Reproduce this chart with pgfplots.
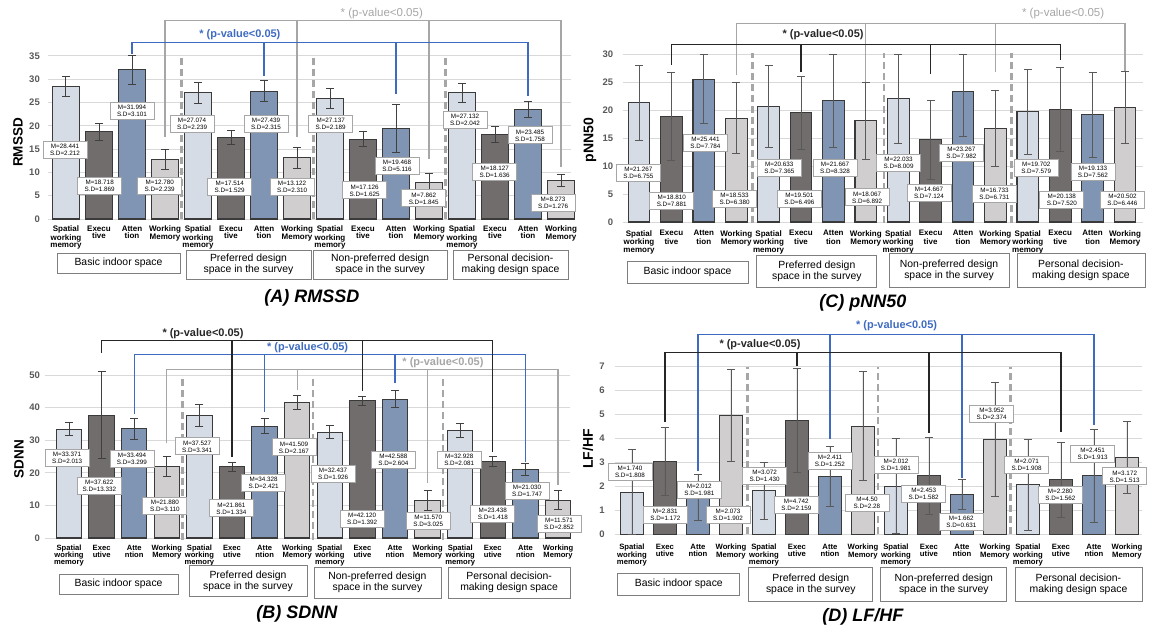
\documentclass[border=0pt]{standalone}
\usepackage{fontspec}
\setmainfont{Liberation Sans}
\usepackage{pgfplots}
\pgfplotsset{compat=1.18}
\definecolor{cswm}{HTML}{D6DCE5}
\definecolor{cexe}{HTML}{716D6C}
\definecolor{catt}{HTML}{7F95B3}
\definecolor{cwm}{HTML}{D0CECE}
\definecolor{edge}{HTML}{3A3A3A}
\definecolor{errc}{HTML}{404040}
\definecolor{gridc}{HTML}{D9D9D9}
\definecolor{tickc}{HTML}{595959}
\definecolor{sepc}{HTML}{A6A6A6}
\definecolor{pblue}{HTML}{3E6BC1}
\definecolor{pgray}{HTML}{A6A6A6}
\definecolor{pblack}{HTML}{262626}
\definecolor{boxc}{HTML}{7F7F7F}
\tikzset{
  mlab/.style={draw=sepc, line width=0.8pt, fill=white, align=center, inner sep=0.5pt,
     font=\fontsize{6.3}{7}\selectfont, minimum width=44pt, minimum height=17pt},
  grp/.style={draw=boxc, line width=0.8pt, fill=white, align=center, inner sep=0pt,
     font=\fontsize{10.4}{11.2}\selectfont},
  sep/.style={sepc, line width=2.6pt, dash pattern=on 7pt off 4pt},
  brk/.style={line width=1.1pt},
  ptxt/.style={font=\bfseries\fontsize{11}{12}\selectfont},
  ttl/.style={font=\bfseries\itshape\fontsize{18}{20}\selectfont},
}
\newcommand{\ml}[4]{\node[mlab] at (axis cs:#1,#2) {M=#3\\S.D=#4};}
\newcommand{\gb}[5]{\node[grp, minimum width=#3pt, minimum height=#4pt] at (axis cs:#1,#2) {#5};}
\pgfplotsset{
 panel/.style={
   clip=false, axis line style={draw=none}, major tick style={draw=none},
   enlargelimits=false, anchor=south west,
   ymajorgrids, grid style={gridc, line width=0.8pt},
   xtick={0,...,15},
   /pgf/number format/assume math mode=true,
   yticklabel style={font=\bfseries\fontsize{9.5}{10}\selectfont, text=tickc},
   xticklabel style={font=\bfseries\fontsize{8}{7.4}\selectfont, align=center, inner sep=1pt, yshift=-1.5pt},
   ylabel style={font=\bfseries\fontsize{13.5}{14}\selectfont, anchor=center},
   ybar, bar shift=0pt,
 },
 swm/.style={fill=cswm, draw=edge, line width=1.1pt},
 exe/.style={fill=cexe, draw=edge, line width=1.1pt},
 att/.style={fill=catt, draw=edge, line width=1.1pt},
 wmm/.style={fill=cwm, draw=edge, line width=1.1pt},
}
\begin{document}
\begin{tikzpicture}
\useasboundingbox (0pt,-631pt) rectangle (1157pt,0pt);
%%%%%%%%%%%%%%%%%%%% (A) RMSSD
\begin{axis}[panel, at={(47.85pt,-219pt)}, x=33pt, y=4.66pt,
  xmin=-0.55, xmax=15.3, ymin=0, ymax=35, ytick={0,5,...,35}, bar width=0.82,
  yticklabel style={xshift=-4.5pt},
  xticklabels={{Spatial\\working\\memory},{Execu\\tive},{Atten\\tion},{Working\\Memory},
               {Spatial\\working\\memory},{Execu\\tive},{Atten\\tion},{Working\\Memory},
               {Spatial\\working\\memory},{Execu\\tive},{Atten\\tion},{Working\\Memory},
               {Spatial\\working\\memory},{Execu\\tive},{Atten\\tion},{Working\\Memory}},
  ylabel={RMSSD}, ylabel style={at={(rel axis cs:-0.0571,0.469)}},
  error bars/y dir=both, error bars/y explicit,
  error bars/error bar style={errc, line width=1pt},
  error bars/error mark options={rotate=90, errc, line width=1pt, mark size=4pt}]
\addplot[swm] coordinates {(0,28.441) +- (0,2.212) (4,27.074) +- (0,2.239) (8,25.9) +- (0,2.189) (12,27.132) +- (0,2.042)};
\addplot[exe] coordinates {(1,18.718) +- (0,1.869) (5,17.514) +- (0,1.529) (9,17.126) +- (0,1.625) (13,18.127) +- (0,1.636)};
\addplot[att] coordinates {(2,31.994) +- (0,3.101) (6,27.439) +- (0,2.315) (10,19.468) +- (0,5.116) (14,23.485) +- (0,1.758)};
\addplot[wmm] coordinates {(3,12.780) +- (0,2.239) (7,13.122) +- (0,2.310) (11,7.862) +- (0,1.845) (15,8.273) +- (0,1.276)};
\draw[sep] (3.5,0) -- (3.5,34.5); \draw[sep] (7.5,0) -- (7.5,34.5); \draw[sep] (11.5,0) -- (11.5,34.5);
\draw[brk, pgray] (3,17.7) -- (3,42.6) -- (15,42.6) -- (15,11.1);
\draw[brk, pgray] (7,42.6) -- (7,17.5); \draw[brk, pgray] (11,42.6) -- (11,12.9);
\draw[brk, pblue] (2,35.4) -- (2,37.8) -- (14,37.8) -- (14,26.5);
\draw[brk, pblue] (6,37.8) -- (6,30.7); \draw[brk, pblue] (10,37.8) -- (10,26.8);
\node[ptxt, text=pblue] at (5.27,39.5) {* (p-value<0.05)};
\node[font=\fontsize{11.5}{12}\selectfont, text=pgray] at (9.57,44.1) {* (p-value<0.05)};
\ml{-0.03}{14.8}{28.441}{2.212}
\ml{1.02}{7.15}{18.718}{1.869}
\ml{2.0}{23.2}{31.994}{3.101}
\ml{2.84}{7.15}{12.780}{2.239}
\ml{3.82}{20.4}{27.074}{2.239}
\ml{4.96}{6.9}{17.514}{1.529}
\ml{6.06}{20.4}{27.439}{2.315}
\ml{6.85}{6.9}{13.122}{2.310}
\ml{8.02}{20.45}{27.137}{2.189}
\ml{9.05}{6.15}{17.126}{1.625}
\ml{10.03}{11.5}{19.468}{5.116}
\ml{10.84}{4.43}{7.862}{1.845}
\ml{12.09}{21.3}{27.132}{2.042}
\ml{12.99}{10.15}{18.127}{1.636}
\ml{14.06}{17.95}{23.485}{1.758}
\ml{14.76}{3.4}{8.273}{1.276}
\gb{1.59}{-9.44}{123}{20}{Basic indoor space}
\gb{5.53}{-9.76}{125}{29}{Preferred design\\space in the survey}
\gb{9.52}{-9.76}{134}{29}{Non-preferred design\\space in the survey}
\gb{13.47}{-9.76}{115}{29}{Personal decision-\\making design space}
\node[ttl] at (7.45,-16.95) {(A) RMSSD};
\end{axis}
%%%%%%%%%%%%%%%%%%%% (C) pNN50
\begin{axis}[panel, at={(622.8pt,-222pt)}, x=32.4pt, y=5.6pt,
  xmin=-0.5, xmax=15.55, ymin=0, ymax=30, ytick={0,5,...,30}, bar width=0.67,
  yticklabel style={xshift=-6pt},
  xticklabel style={font=\bfseries\fontsize{8}{8.2}\selectfont, yshift=-1.5pt},
  xticklabels={{Spatial\\working\\memory},{Execu\\tive},{Atten\\tion},{Working\\Memory},
               {Spatial\\working\\memory},{Execu\\tive},{Atten\\tion},{Working\\Memory},
               {Spatial\\working\\memory},{Execu\\tive},{Atten\\tion},{Working\\Memory},
               {Spatial\\working\\memory},{Execu\\tive},{Atten\\tion},{Working\\Memory}},
  ylabel={pNN50}, ylabel style={at={(rel axis cs:-0.063,0.488)}, font=\bfseries\fontsize{14}{14}\selectfont},
  error bars/y dir=both, error bars/y explicit,
  error bars/error bar style={tickc, line width=0.9pt},
  error bars/error mark options={rotate=90, tickc, line width=0.9pt, mark size=4pt}]
\addplot[swm] coordinates {(0,21.267) +- (0,6.755) (4,20.633) +- (0,7.365) (8,22.033) += (0,7.967) -= (0,8.009) (12,19.702) +- (0,7.579)};
\addplot[exe] coordinates {(1,18.810) +- (0,7.881) (5,19.501) +- (0,6.496) (9,14.667) +- (0,7.124) (13,20.138) +- (0,7.520)};
\addplot[att] coordinates {(2,25.441) += (0,4.559) -= (0,7.784) (6,21.667) += (0,8.333) -= (0,8.328) (10,23.267) += (0,6.733) -= (0,7.982) (14,19.133) +- (0,7.562)};
\addplot[wmm] coordinates {(3,18.533) +- (0,6.380) (7,18.067) +- (0,6.892) (11,16.733) +- (0,6.731) (15,20.502) +- (0,6.446)};
\draw[sep] (3.5,-0.2) -- (3.5,30.2); \draw[sep] (7.56,-0.2) -- (7.56,30.2); \draw[sep] (11.5,-0.2) -- (11.5,30.2);
\draw[brk, pgray] (3,26.25) -- (3,35.5) -- (15,35.5) -- (15,27.0);
\draw[brk, pgray] (7,35.5) -- (7,25.05); \draw[brk, pgray] (11,35.5) -- (11,26.7);
\draw[brk, pblack] (1,28.0) -- (1,31.7) -- (13,31.7) -- (13,28.9);
\draw[brk, pblack] (5,31.7) -- (5,26.8); \draw[brk, pblack] (9,31.7) -- (9,26.4);
\node[font=\fontsize{11.5}{12}\selectfont, text=pgray] at (13.09,37.3) {* (p-value<0.05)};
\node[ptxt, text=pblack] at (5.68,33.4) {* (p-value<0.05)};
\ml{-0.02}{8.8}{21.267}{6.755}
\ml{1.01}{3.8}{18.810}{7.881}
\ml{2.05}{14.05}{25.441}{7.784}
\ml{2.95}{4.2}{18.533}{6.380}
\ml{4.33}{9.6}{20.633}{7.365}
\ml{4.95}{4.2}{19.501}{6.496}
\ml{6.05}{9.6}{21.667}{8.328}
\ml{7.04}{4.4}{18.067}{6.892}
\ml{8.01}{10.6}{22.033}{8.009}
\ml{8.95}{5.2}{14.667}{7.124}
\ml{9.95}{12.4}{23.267}{7.982}
\ml{10.97}{5.1}{16.733}{6.731}
\ml{12.26}{9.6}{19.702}{7.579}
\ml{13.05}{3.9}{20.138}{7.520}
\ml{14.01}{9.0}{19.133}{7.562}
\ml{14.92}{3.9}{20.502}{6.446}
\gb{1.50}{-8.93}{121}{22}{Basic indoor space}
\gb{5.49}{-8.75}{120}{32}{Preferred design\\space in the survey}
\gb{9.57}{-8.57}{120}{34}{Non-preferred design\\space in the survey}
\gb{13.64}{-8.57}{128}{34}{Personal decision-\\making design space}
\node[ttl] at (6.91,-14.46) {(C) pNN50};
\end{axis}
%%%%%%%%%%%%%%%%%%%% (B) SDNN
\begin{axis}[panel, at={(44.9pt,-538pt)}, x=32.6pt, y=3.26pt,
  xmin=-0.74, xmax=15.37, ymin=0, ymax=50, ytick={0,10,...,50}, bar width=0.78,
  yticklabel style={xshift=-1.5pt},
  xticklabel style={font=\bfseries\fontsize{7.6}{7.2}\selectfont},
  xticklabels={{Spatial\\working\\memory},{Exec\\utive},{Atte\\ntion},{Working\\Memory},
               {Spatial\\working\\memory},{Exec\\utive},{Atte\\ntion},{Working\\Memory},
               {Spatial\\working\\memory},{Exec\\utive},{Atte\\ntion},{Working\\Memory},
               {Spatial\\working\\memory},{Exec\\utive},{Atte\\ntion},{Working\\Memory}},
  ylabel={SDNN}, ylabel style={at={(rel axis cs:-0.0493,0.485)}},
  error bars/y dir=both, error bars/y explicit,
  error bars/error bar style={errc, line width=1pt},
  error bars/error mark options={rotate=90, errc, line width=1pt, mark size=4pt}]
\addplot[swm] coordinates {(0,33.371) +- (0,2.013) (4,37.527) +- (0,3.341) (8,32.437) +- (0,1.926) (12,32.928) +- (0,2.081)};
\addplot[exe] coordinates {(1,37.622) +- (0,13.332) (5,21.861) +- (0,1.334) (9,42.120) +- (0,1.392) (13,23.438) +- (0,1.418)};
\addplot[att] coordinates {(2,33.494) +- (0,3.299) (6,34.328) +- (0,2.421) (10,42.588) +- (0,2.604) (14,21.030) +- (0,1.747)};
\addplot[wmm] coordinates {(3,21.880) +- (0,3.110) (7,41.509) +- (0,2.167) (11,11.570) +- (0,3.025) (15,11.571) +- (0,2.852)};
\draw[sep] (3.49,-0.6) -- (3.49,49.5); \draw[sep] (7.48,-0.6) -- (7.48,49.5); \draw[sep] (11.47,-0.6) -- (11.47,49.5);
\draw[brk, pgray] (3,29) -- (3,51.7) -- (15,51.7) -- (15,16.3);
\draw[brk, pgray] (7,51.7) -- (7,45.4); \draw[brk, pgray] (11,51.7) -- (11,16.8);
\draw[brk, pblue] (2,38.0) -- (2,56.3) -- (14,56.3) -- (14,23.4);
\draw[brk, pblue] (6,56.3) -- (6,38.8); \draw[brk, pblue] (10,56.3) -- (10,47.4);
\draw[brk, pblack] (1,56.8) -- (1,60.7) -- (13,60.7) -- (13,26.5);
\draw[brk, pblack] (5,60.7) -- (5,24.9); \draw[brk, pblack] (9,60.7) -- (9,45.1);
\node[ptxt, text=pblack] at (4.11,62.8) {* (p-value<0.05)};
\node[ptxt, text=pblue] at (7.32,58.5) {* (p-value<0.05)};
\node[ptxt, text=pgray] at (11.47,53.9) {* (p-value<0.05)};
\ml{-0.06}{24.7}{33.371}{2.013}
\ml{0.93}{16.0}{37.622}{13.332}
\ml{1.93}{24.4}{33.494}{3.299}
\ml{2.94}{9.77}{21.880}{3.110}
\ml{3.93}{28.1}{37.527}{3.341}
\ml{4.98}{9.1}{21.861}{1.334}
\ml{5.97}{17.0}{34.328}{2.421}
\ml{6.9}{27.8}{41.509}{2.167}
\ml{8.1}{19.6}{32.437}{1.926}
\ml{8.99}{5.8}{42.120}{1.392}
\ml{9.95}{24.0}{42.588}{2.604}
\ml{11.02}{5.4}{11.570}{3.025}
\ml{11.97}{24.0}{32.928}{2.081}
\ml{13.0}{7.5}{23.438}{1.418}
\ml{14.05}{14.5}{21.030}{1.747}
\ml{15.03}{4.2}{11.571}{2.852}
\gb{1.52}{-14.1}{119}{20}{Basic indoor space}
\gb{5.49}{-13.3}{118}{31}{Preferred design\\space in the survey}
\gb{9.46}{-13.65}{127}{31}{Non-preferred design\\space in the survey}
\gb{13.5}{-13.65}{122}{31}{Personal decision-\\making design space}
\node[ttl] at (6.99,-23.3) {(B) SDNN};
\end{axis}
%%%%%%%%%%%%%%%%%%%% (D) LF/HF
\begin{axis}[panel, at={(614.8pt,-534.3pt)}, x=33pt, y=24.05pt,
  xmin=-0.52, xmax=15.45, ymin=0, ymax=7, ytick={0,...,7}, bar width=0.69,
  yticklabel style={xshift=-6.5pt},
  xticklabel style={font=\bfseries\fontsize{7.7}{7.8}\selectfont, yshift=-2.5pt},
  xticklabels={{Spatial\\working\\memory},{Exec\\utive},{Atte\\ntion},{Working\\Memory},
               {Spatial\\working\\memory},{Exec\\utive},{Atte\\ntion},{Working\\Memory},
               {Spatial\\working\\memory},{Exec\\utive},{Atte\\ntion},{Working\\Memory},
               {Spatial\\working\\memory},{Exec\\utive},{Atte\\ntion},{Working\\Memory}},
  ylabel={LF/HF}, ylabel style={at={(rel axis cs:-0.0509,0.507)}, font=\bfseries\fontsize{14}{14}\selectfont},
  error bars/y dir=both, error bars/y explicit,
  error bars/error bar style={tickc, line width=0.9pt},
  error bars/error mark options={rotate=90, tickc, line width=0.9pt, mark size=4pt}]
\addplot[swm, line width=0.9pt] coordinates {(0,1.74) += (0,1.808) -= (0,1.74) (4,1.81) +- (0,1.19) (8,2.0) +- (0,1.97) (12,2.06) +- (0,1.9)};
\addplot[exe, line width=0.9pt] coordinates {(1,3.03) +- (0,1.43) (5,4.74) +- (0,2.16) (9,2.44) +- (0,1.6) (13,2.27) +- (0,1.56)};
\addplot[att, line width=0.9pt] coordinates {(2,1.53) +- (0,0.96) (6,2.40) +- (0,1.25) (10,1.66) +- (0,0.63) (14,2.44) +- (0,1.93)};
\addplot[wmm, line width=0.9pt] coordinates {(3,4.94) +- (0,1.92) (7,4.49) +- (0,2.27) (11,3.95) +- (0,2.38) (15,3.19) +- (0,1.51)};
\draw[sep] (3.5,0) -- (3.5,6.97); \draw[sep] (7.46,0) -- (7.46,6.97); \draw[sep] (11.47,0) -- (11.47,6.97);
\draw[brk, pblue] (2,2.65) -- (2,8.32) -- (14,8.32) -- (14,4.54);
\draw[brk, pblue] (6,8.32) -- (6,3.95); \draw[brk, pblue] (10,8.32) -- (10,2.33);
\draw[brk, pblack] (1,4.68) -- (1,7.55) -- (13,7.55) -- (13,4.24);
\draw[brk, pblack] (5,7.55) -- (5,7.01); \draw[brk, pblack] (9,7.55) -- (9,4.2);
\node[ptxt, text=pblue] at (8.02,8.66) {* (p-value<0.05)};
\node[ptxt, text=pblack] at (3.88,7.87) {* (p-value<0.05)};
\ml{-0.06}{2.6}{1.740}{1.808}
\ml{1.01}{0.8}{2.831}{1.172}
\ml{2.04}{1.84}{2.012}{1.981}
\ml{2.91}{0.8}{2.073}{1.902}
\ml{4.02}{2.42}{3.072}{1.430}
\ml{4.98}{1.22}{4.742}{2.159}
\ml{6.0}{3.05}{2.411}{1.252}
\ml{7.12}{1.29}{4.50}{2.28}
\ml{8.0}{2.87}{2.012}{1.981}
\ml{8.84}{1.7}{2.453}{1.582}
\ml{9.98}{0.52}{1.662}{0.631}
\ml{10.9}{4.99}{3.952}{2.374}
\ml{11.96}{2.88}{2.071}{1.908}
\ml{12.98}{1.63}{2.280}{1.562}
\ml{13.96}{3.34}{2.451}{1.913}
\ml{14.93}{2.41}{3.172}{1.513}
\gb{1.42}{-2.07}{122}{22}{Basic indoor space}
\gb{5.42}{-2.07}{124}{34}{Preferred design\\space in the survey}
\gb{9.45}{-2.07}{126}{34}{Non-preferred design\\space in the survey}
\gb{13.53}{-2.07}{127}{34}{Personal decision-\\making design space}
\node[ttl] at (7.0,-3.44) {(D) LF/HF};
\end{axis}
\end{tikzpicture}
\end{document}
